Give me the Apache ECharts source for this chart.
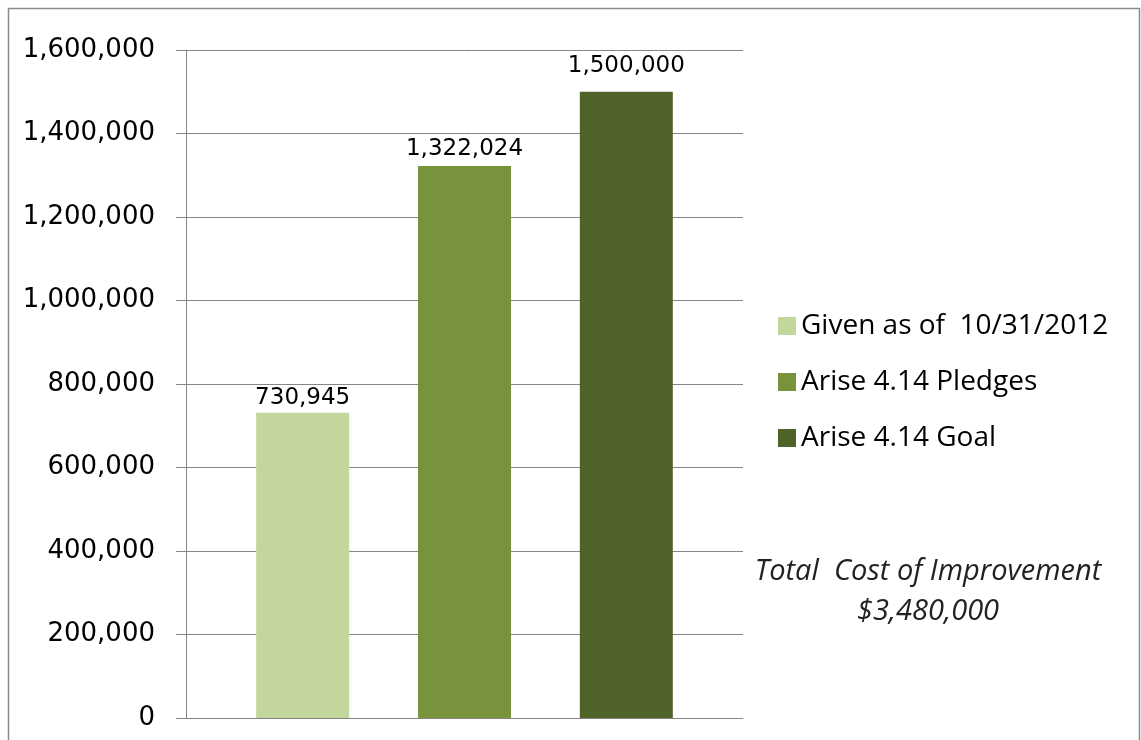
<!DOCTYPE html>
<html>
<head>
<meta charset="utf-8">
<script src="https://cdn.jsdelivr.net/npm/echarts@6/dist/echarts.min.js"></script>
<style>
html,body{margin:0;padding:0;background:#fff;}
#chart{width:1141px;height:740px;}
</style>
</head>
<body>
<div id="chart"></div>
<script>
const categories = ['Arise 4.14'];
const seriesNames = ['Given as of  10/31/2012', 'Arise 4.14 Pledges', 'Arise 4.14 Goal'];
const seriesValues = [730945, 1322024, 1500000];
const seriesColors = ['#C3D69B', '#77933C', '#4F6228'];
const labelDistances = [3, 6, 14];
const noteLines = ['Total  Cost of Improvement', '$3,480,000'];

const fmt = v => Number(v).toLocaleString('en-US');
const chart = echarts.init(document.getElementById('chart'));

const series = seriesNames.map((name, i) => ({
  name: name,
  type: 'bar',
  data: [seriesValues[i]],
  barWidth: 93,
  barGap: '74%',
  itemStyle: { color: seriesColors[i] },
  label: {
    show: true,
    position: 'top',
    distance: labelDistances[i],
    formatter: p => fmt(p.value),
    fontFamily: 'DejaVu Sans',
    fontSize: 23,
    color: '#000'
  }
}));

chart.setOption({
  animation: false,
  backgroundColor: '#fff',
  grid: { left: 186, right: 398, top: 50, bottom: 22, containLabel: false },
  xAxis: {
    type: 'category',
    data: categories,
    axisLine: { show: true, lineStyle: { color: '#868686', width: 1 } },
    axisTick: { show: false },
    axisLabel: { show: false }
  },
  yAxis: {
    type: 'value',
    min: 0,
    max: 1600000,
    interval: 200000,
    axisLine: { show: true, lineStyle: { color: '#868686', width: 1 } },
    axisTick: { show: true, length: 10, lineStyle: { color: '#868686' } },
    axisLabel: {
      formatter: v => fmt(v),
      fontFamily: 'DejaVu Sans',
      fontSize: 26,
      color: '#000',
      margin: 31
    },
    splitLine: { show: true, lineStyle: { color: '#868686', width: 1 } }
  },
  legend: {
    orient: 'vertical',
    left: 773,
    top: 305,
    icon: 'rect',
    itemWidth: 18,
    itemHeight: 18,
    itemGap: 24,
    textStyle: { fontFamily: 'Open Sans', fontSize: 28, color: '#000', lineHeight: 32 },
    data: seriesNames
  },
  graphic: [
    {
      type: 'rect',
      shape: { x: 8.5, y: 8.5, width: 1131, height: 800 },
      style: { fill: 'none', stroke: '#8a8a8a', lineWidth: 1.5 },
      silent: true
    },
    {
      type: 'text',
      x: 928,
      y: 552,
      silent: true,
      style: {
        text: noteLines.join('\n'),
        fontFamily: 'Open Sans',
        fontStyle: 'italic',
        fontSize: 29,
        lineHeight: 40,
        fill: '#222',
        textAlign: 'center',
        textVerticalAlign: 'top'
      }
    }
  ],
  series: series
});
</script>
</body>
</html>
